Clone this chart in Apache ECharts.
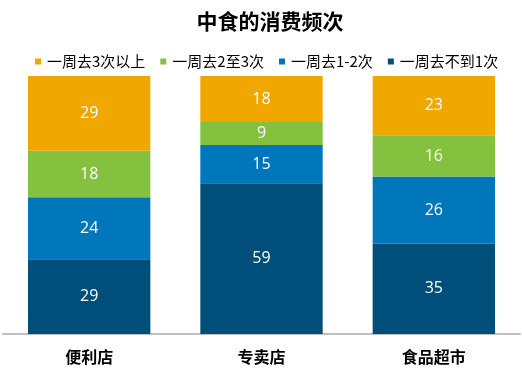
<!DOCTYPE html>
<html>
<head>
<meta charset="utf-8">
<script src="https://cdn.jsdelivr.net/npm/echarts@6/dist/echarts.min.js"></script>
<style>html,body{margin:0;padding:0;background:#fff}#c{width:522px;height:379px}</style>
</head>
<body>
<div id="c"></div>
<script>
var categories = ['便利店', '专卖店', '食品超市'];
var seriesNames = ['一周去3次以上', '一周去2至3次', '一周去1-2次', '一周去不到1次'];
var threePlus = [29, 18, 23];
var twoToThree = [18, 9, 16];
var oneToTwo = [24, 15, 26];
var lessThanOne = [29, 59, 35];
var colors = ['#F0A800', '#84C13F', '#0076BB', '#004E7A'];

var raw = [threePlus, twoToThree, oneToTwo, lessThanOne];
var totals = categories.map(function (c, i) {
  return raw.reduce(function (s, arr) { return s + arr[i]; }, 0);
});
// draw stacked bottom-up: less than one at bottom
var order = [3, 2, 1, 0];
var series = order.map(function (k) {
  return {
    name: seriesNames[k],
    type: 'bar',
    stack: 'total',
    barWidth: '71%',
    itemStyle: { color: colors[k] },
    label: {
      show: true,
      position: 'inside',
      color: '#ffffff',
      fontSize: 16,
      fontFamily: 'Open Sans, Noto Sans, sans-serif',
      formatter: function (p) { return raw[k][p.dataIndex]; }
    },
    data: raw[k].map(function (v, i) { return v / totals[i] * 100; })
  };
});

var chart = echarts.init(document.getElementById('c'));
chart.setOption({
  animation: false,
  title: {
    text: '中食的消费频次',
    left: 265,
    textAlign: 'center',
    top: 6,
    textStyle: { fontSize: 21, fontWeight: 'bold', color: '#000', fontFamily: 'Noto Sans CJK SC' }
  },
  legend: {
    data: seriesNames,
    top: 49,
    left: 30,
    itemWidth: 6,
    itemHeight: 6,
    itemGap: 15,
    icon: 'rect',
    textStyle: { fontSize: 15, color: '#000', fontFamily: 'Noto Sans CJK SC', padding: [0, 0, 0, 1] }
  },
  grid: { left: 3, right: 2, top: 76, bottom: 45 },
  xAxis: {
    type: 'category',
    data: categories,
    axisLine: { lineStyle: { color: '#BFBFBF', width: 2 } },
    axisTick: { show: false },
    axisLabel: { fontSize: 16, fontWeight: 'bold', color: '#000', margin: 15, fontFamily: 'Noto Sans CJK SC' }
  },
  yAxis: {
    type: 'value',
    min: 0,
    max: 100,
    show: false,
    splitLine: { show: false }
  },
  series: series
});
</script>
</body>
</html>
